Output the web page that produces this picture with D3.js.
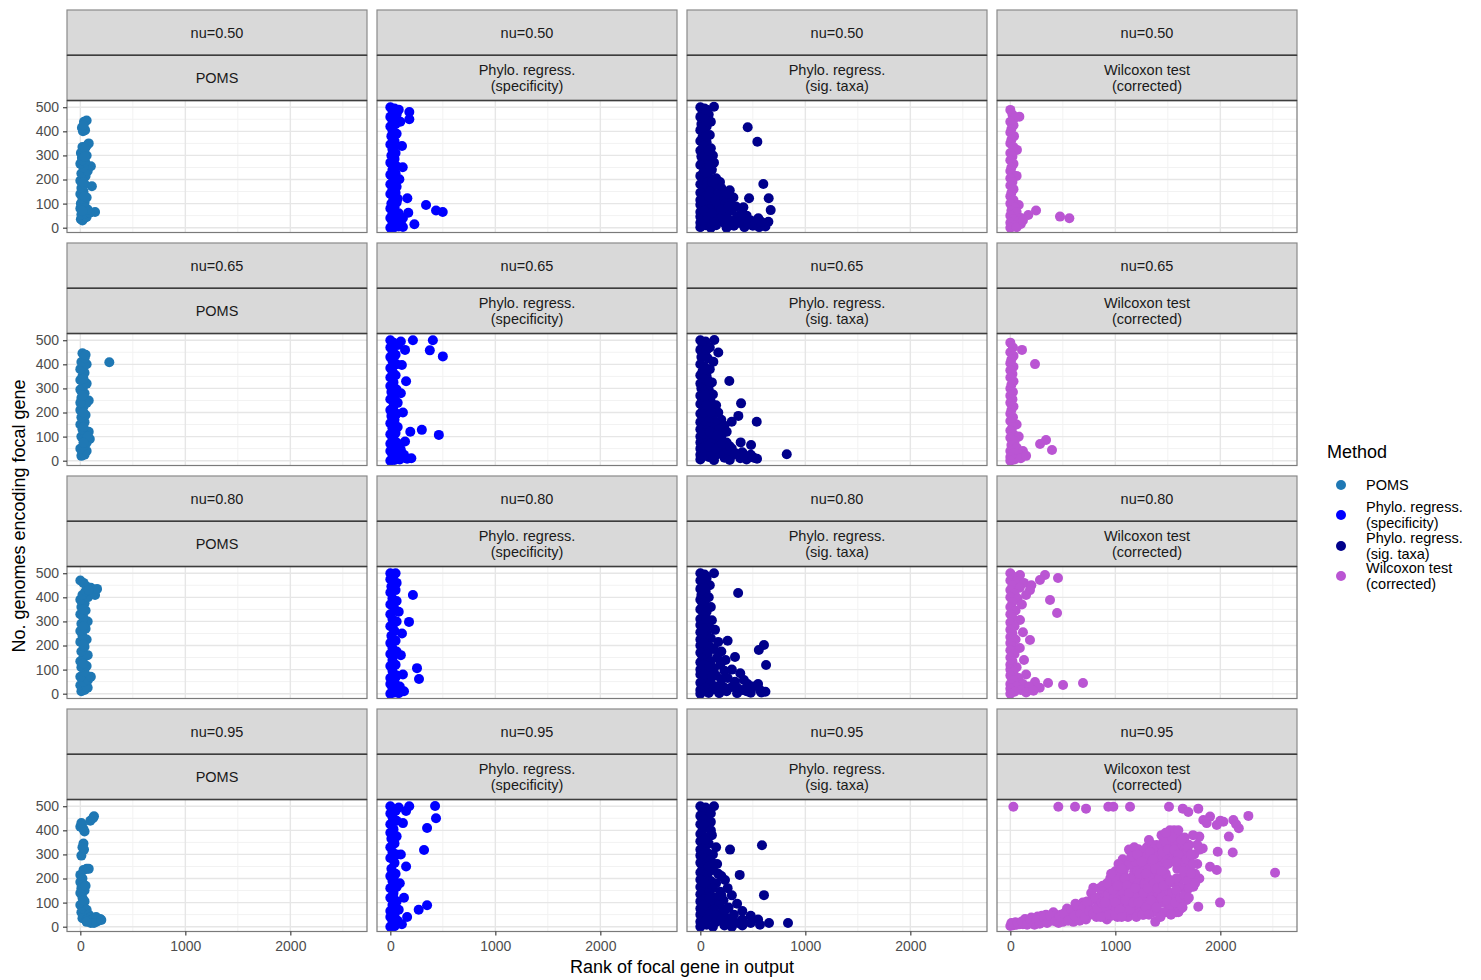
<!DOCTYPE html>
<html>
<head>
<meta charset="utf-8">
<script src="https://cdn.jsdelivr.net/npm/d3@7"></script>
<style>
  body { margin: 0; background: #ffffff; }
  text { font-family: "Liberation Sans", Arial, Helvetica, sans-serif; }
</style>
</head>
<body>
<svg id="chart" width="1481" height="980"></svg>
<script>
// Facet labels, legend entries and tick values
const nuLevels = ["nu=0.50", "nu=0.65", "nu=0.80", "nu=0.95"];
const methods = ["POMS", "Phylo. regress.\n(specificity)", "Phylo. regress.\n(sig. taxa)", "Wilcoxon test\n(corrected)"];
const methodColors = ["#1f78b4", "#0000ff", "#00008b", "#ba55d3"];
const xTicks = [0, 1000, 2000];
const xMinorTicks = [500, 1500, 2500];
const yTicks = [0, 100, 200, 300, 400, 500];
const yMinorTicks = [50, 150, 250, 350, 450];

// Each point: [rank of focal gene in output, no. genomes encoding focal gene]
const nu050_poms = [[5,35],[20,30],[40,40],[60,45],[10,55],[50,60],[140,65],[90,62],[0,80],[30,85],[70,75],[5,100],[40,105],[20,120],[60,125],[0,140],[30,150],[10,165],[110,172],[40,180],[0,195],[25,205],[50,215],[10,225],[70,235],[100,255],[30,250],[0,265],[45,275],[15,290],[60,300],[5,310],[35,320],[20,335],[60,340],[80,350],[45,330],[25,400],[45,405],[15,415],[35,440],[60,445],[30,425],[20,70],[40,130],[30,190],[20,280],[40,295]];
const nu050_spec = [[0,0],[40,2],[80,5],[120,3],[20,20],[60,25],[100,18],[0,40],[50,45],[20,60],[70,58],[0,80],[40,85],[10,100],[60,105],[30,120],[162,122],[0,140],[50,145],[20,160],[60,170],[0,180],[86,201],[30,200],[0,220],[50,225],[20,240],[118,251],[60,255],[0,270],[40,285],[10,300],[50,310],[20,325],[111,339],[0,345],[40,360],[10,380],[60,390],[20,405],[0,420],[50,430],[95,440],[20,445],[181,450],[0,460],[60,470],[181,480],[20,485],[0,500],[40,495],[340,94],[435,71],[499,65],[171,62],[229,14],[95,20],[80,60],[120,40],[30,30],[30,110],[30,180],[30,260],[30,335],[30,395],[30,470],[80,490],[70,120],[80,10]];
const nu050_sig = [[0,500],[40,495],[130,502],[20,480],[80,470],[0,460],[50,450],[100,440],[10,430],[60,420],[451,417],[0,405],[40,395],[90,385],[20,375],[0,360],[543,357],[60,355],[30,340],[100,330],[0,320],[50,310],[120,300],[10,295],[70,285],[20,275],[130,270],[0,260],[60,250],[110,240],[30,230],[0,215],[80,210],[150,205],[40,195],[187,190],[600,181],[0,180],[60,175],[120,170],[200,165],[30,160],[280,155],[90,150],[0,145],[160,140],[240,135],[50,130],[315,125],[464,122],[651,122],[110,120],[0,115],[200,110],[60,105],[280,100],[0,95],[140,95],[410,85],[340,88],[30,85],[220,82],[90,75],[670,73],[300,70],[0,65],[160,65],[400,62],[60,55],[250,55],[441,50],[120,45],[0,45],[350,45],[30,35],[190,35],[552,39],[480,30],[648,25],[300,28],[90,25],[0,20],[230,20],[400,18],[600,15],[50,10],[150,10],[320,8],[500,8],[620,5],[0,2],[100,0],[250,0],[420,2],[560,2],
  [20,30],[70,40],[130,30],[170,50],[210,45],[260,35],[330,25],[370,50],[430,35],[20,110],[80,130],[140,115],[180,95],[240,100],[300,85],[40,70],[110,60],[200,75],[270,90],[360,20],[460,15],[520,20],[580,25],[30,200],[70,190],[110,190],[50,230],[90,260],[40,300],[80,320],[60,380],[30,420],[70,440],[30,460],[60,490]];
const nu050_wil = [[0,489],[20,470],[86,461],[40,455],[0,440],[30,425],[10,410],[0,395],[35,380],[10,365],[0,350],[30,335],[63,323],[0,310],[20,295],[0,280],[30,265],[10,250],[0,235],[25,220],[60,215],[0,205],[20,190],[0,175],[30,160],[10,145],[0,130],[30,115],[80,94],[0,100],[40,85],[10,70],[60,65],[245,71],[171,53],[473,46],[562,39],[100,40],[0,50],[30,35],[70,25],[0,20],[40,10],[100,15],[0,0],[60,2],[120,30]];

const nu065_poms = [[10,20],[40,25],[60,40],[0,50],[30,60],[90,90],[60,75],[10,100],[50,110],[80,120],[20,130],[0,150],[40,160],[10,180],[50,190],[0,210],[30,225],[80,250],[60,240],[10,260],[40,280],[0,295],[30,310],[60,320],[0,335],[20,350],[40,365],[0,380],[30,395],[60,400],[10,410],[40,425],[20,446],[50,440],[276,409],[0,240],[70,100],[30,75],[30,140],[30,200],[20,270],[30,340]];
const nu065_spec = [[0,0],[40,3],[90,5],[20,20],[60,25],[0,40],[100,45],[40,55],[0,70],[60,75],[20,90],[0,110],[50,115],[20,135],[70,140],[0,155],[40,170],[10,185],[60,195],[0,210],[30,225],[70,240],[0,255],[40,270],[10,285],[60,295],[0,310],[30,325],[150,330],[0,345],[50,355],[20,370],[0,385],[110,397],[60,400],[20,415],[0,430],[50,440],[140,460],[20,455],[0,470],[70,480],[30,490],[0,500],[100,495],[215,500],[405,500],[376,458],[500,433],[100,280],[120,200],[300,128],[462,107],[190,120],[140,80],[130,25],[200,10],[90,50],[160,8],[30,100],[30,160],[30,245],[30,300],[30,360],[30,430]];
const nu065_sig = [[0,500],[50,495],[133,501],[20,480],[90,470],[0,460],[171,449],[40,445],[10,430],[70,425],[124,411],[0,400],[40,390],[90,380],[20,370],[0,355],[60,350],[30,340],[276,331],[110,325],[0,320],[50,310],[10,300],[80,295],[30,285],[120,275],[0,270],[60,260],[20,250],[100,245],[388,238],[0,235],[150,230],[50,225],[90,215],[20,205],[171,200],[0,195],[60,190],[362,186],[120,185],[30,175],[200,170],[299,162],[537,162],[80,165],[0,160],[150,155],[40,145],[230,145],[100,140],[0,130],[180,130],[60,125],[251,120],[20,115],[120,110],[0,100],[200,100],[80,95],[40,85],[150,85],[384,76],[0,75],[250,75],[100,70],[483,65],[40,60],[180,60],[0,50],[300,50],[120,45],[220,40],[60,35],[400,35],[0,25],[823,27],[150,25],[300,22],[480,25],[80,15],[230,12],[510,12],[380,10],[0,5],[130,2],[280,3],[440,5],[540,8],
  [30,20],[110,25],[190,30],[260,45],[340,30],[420,20],[30,55],[80,60],[150,50],[210,70],[280,60],[30,110],[90,120],[160,105],[40,200],[100,200],[60,230],[40,270],[80,330],[50,380],[60,460]];
const nu065_wil = [[0,490],[25,470],[111,460],[0,450],[30,435],[10,420],[235,401],[0,405],[30,390],[0,375],[20,360],[0,345],[30,330],[10,315],[0,300],[25,285],[0,270],[20,255],[0,240],[30,225],[10,210],[0,195],[25,180],[60,150],[0,165],[20,140],[0,125],[30,110],[80,100],[0,95],[40,80],[10,65],[60,55],[340,86],[283,69],[397,44],[120,40],[0,40],[30,30],[80,25],[0,15],[40,5],[100,10],[150,20],[0,0]];

const nu080_poms = [[10,10],[40,15],[70,25],[0,35],[60,30],[30,50],[73,57],[100,70],[0,70],[40,90],[10,110],[60,115],[0,135],[30,150],[70,160],[10,175],[40,195],[0,215],[60,225],[20,240],[0,260],[50,270],[10,290],[70,300],[30,315],[0,330],[50,345],[10,360],[40,375],[0,390],[73,401],[20,410],[100,440],[140,410],[120,420],[159,435],[60,445],[30,460],[0,470],[50,425],[80,430],[30,125],[30,205],[30,280],[30,350]];
const nu080_spec = [[0,0],[40,5],[80,2],[20,20],[60,25],[130,10],[0,40],[90,30],[40,50],[0,65],[120,80],[60,75],[20,95],[0,115],[50,120],[254,106],[273,61],[20,140],[100,160],[0,165],[60,175],[20,190],[0,210],[50,220],[111,250],[10,240],[40,260],[0,280],[178,298],[60,300],[20,310],[0,330],[80,340],[40,350],[0,370],[60,385],[20,395],[215,410],[0,420],[50,430],[10,445],[60,460],[0,475],[30,490],[0,500],[50,500],[30,80],[30,160],[30,225],[30,290],[30,365],[30,460]];
const nu080_sig = [[0,500],[40,495],[130,500],[60,480],[0,470],[20,455],[90,450],[0,435],[50,425],[360,418],[10,410],[80,400],[0,390],[40,380],[20,365],[100,360],[0,350],[60,340],[30,325],[0,310],[110,305],[50,295],[0,285],[80,280],[20,270],[140,265],[0,255],[60,250],[30,240],[260,220],[100,230],[0,225],[170,215],[50,210],[606,202],[0,200],[90,195],[557,181],[130,185],[30,180],[200,175],[0,170],[70,165],[330,152],[160,150],[20,145],[240,140],[100,135],[0,130],[626,119],[190,120],[50,115],[300,100],[130,105],[0,100],[230,95],[70,90],[380,85],[0,80],[150,75],[415,57],[260,65],[40,60],[330,50],[100,45],[0,45],[450,40],[200,35],[550,40],[50,25],[300,28],[500,30],[0,15],[130,18],[400,15],[568,15],[250,10],[620,8],[80,3],[180,2],[350,2],[480,4],[580,5],[0,0],
  [30,120],[90,115],[40,80],[110,75],[200,60],[160,30],[230,25],[350,25],[440,10],[30,210],[60,310],[40,440],[30,270]];
const nu080_wil = [[0,500],[92,493],[330,493],[30,485],[282,472],[454,480],[0,470],[60,465],[130,460],[200,450],[20,450],[90,440],[187,430],[0,430],[40,415],[150,410],[0,400],[378,389],[70,395],[20,380],[110,370],[0,360],[50,345],[445,335],[0,330],[92,306],[20,315],[0,295],[40,280],[0,265],[120,255],[20,250],[0,235],[187,223],[50,225],[0,210],[20,195],[90,190],[0,180],[40,165],[0,150],[130,140],[20,135],[0,120],[60,110],[0,100],[30,90],[150,80],[0,75],[80,65],[30,55],[235,48],[359,44],[502,36],[692,44],[120,40],[0,40],[180,30],[60,30],[280,25],[0,20],[100,15],[40,8],[0,0],[150,5],[220,12]];

const nu095_poms = [[0,415],[15,425],[30,405],[40,395],[10,430],[95,440],[130,458],[120,450],[30,345],[35,320],[10,295],[20,330],[60,240],[30,235],[80,240],[0,215],[20,200],[0,185],[30,175],[10,160],[40,150],[0,140],[20,120],[40,105],[0,90],[30,80],[60,70],[10,60],[40,50],[80,50],[100,40],[20,35],[60,30],[120,30],[160,22],[190,32],[150,40],[100,15],[130,15],[200,28],[60,20],[30,110],[50,170]];
const nu095_spec = [[0,0],[40,2],[110,10],[20,20],[70,25],[0,40],[160,40],[40,50],[270,70],[350,89],[0,65],[80,70],[20,90],[60,105],[0,120],[130,120],[30,140],[0,160],[60,165],[90,180],[20,190],[0,210],[50,220],[150,250],[10,240],[40,265],[0,285],[100,300],[60,300],[20,310],[321,318],[0,330],[40,345],[10,365],[60,375],[0,390],[350,410],[30,405],[120,430],[0,425],[60,440],[435,450],[20,455],[0,470],[150,480],[50,480],[0,500],[180,500],[426,501],[80,495],[30,70],[30,120],[30,200],[30,290],[30,375],[30,440]];
const nu095_sig = [[0,500],[50,495],[130,500],[20,480],[80,470],[0,460],[40,445],[100,435],[0,425],[60,415],[20,400],[0,385],[110,380],[50,370],[0,355],[80,345],[587,338],[30,335],[0,320],[283,320],[60,310],[120,300],[0,295],[40,285],[90,275],[0,265],[160,260],[50,255],[20,240],[120,235],[0,225],[70,220],[375,215],[200,210],[30,205],[235,194],[0,195],[100,190],[150,180],[50,175],[0,165],[260,160],[120,160],[30,150],[190,145],[80,140],[606,131],[0,135],[300,130],[140,120],[40,115],[220,110],[0,105],[100,100],[350,95],[180,90],[50,85],[0,75],[270,80],[130,70],[400,65],[60,60],[200,55],[0,50],[320,50],[480,45],[100,40],[250,35],[30,30],[400,30],[550,30],[0,20],[150,20],[320,18],[480,15],[654,15],[835,15],[60,8],[230,5],[400,5],[568,8],[0,0],[120,0],[300,0],
  [30,60],[80,50],[150,45],[200,30],[280,20],[360,15],[30,90],[90,120],[40,180],[80,250],[40,360],[40,420],[100,470],[100,400],[150,330],[130,260],[170,220],[200,130],[240,70],[60,30]];
const nu095_wil = [
  [29,498],[457,498],[616,498],[721,490],[933,498],[981,498],[1140,498],[1511,498],[1642,490],[1695,476],[1790,490],[1838,443],[1902,457],[1966,422],[2029,436],[2124,443],[2267,460],[2176,409],[2081,374],[2150,425],[2000,440],[1870,430],
  [1800,374],[1832,325],[1975,311],[2118,308],[1902,249],[1966,235],[2521,224],[1743,215],[1800,200],[1743,166],[1680,111],[1790,83],[1997,100],[1627,76],
  [1219,321],[1394,339],[1600,374],[1054,256],[952,201],[790,162],
  [0,3],[30,6],[60,8],[90,10],[10,15],[50,18],
  [120,10],[150,20],[180,15],[210,25],[240,18],[270,30],[300,22],[140,32],[200,38],[260,42],[300,45],[230,8],
  [330,20],[360,35],[390,25],[420,40],[450,30],[480,50],[500,38],[340,50],[410,60],[460,15],[500,20],
  [530,30],[560,55],[590,40],[620,70],[650,45],[680,90],[700,60],[540,75],[600,20],[660,25],[690,100],[620,95],
  [720,30],[740,80],[760,50],[780,110],[800,70],[820,40],[840,95],[860,130],[880,60],[900,150],[770,140],[850,160],
  [920,30],[940,90],[960,120],[980,60],[1000,170],[1020,40],[1040,140],[1060,200],[1080,100],[1100,250],[1000,230],[1080,180],[1030,100],[1100,60],[960,45],[1070,280],[1100,150],[1040,220],
  [1120,40],[1140,110],[1160,180],[1180,230],[1200,290],[1220,60],[1240,140],[1260,200],[1280,260],[1300,330],[1130,320],[1150,260],[1190,80],[1250,90],[1270,50],[1210,170],[1280,120],[1300,190],[1170,130],[1230,250],[1300,60],[1250,300],
  [1320,80],[1340,150],[1360,210],[1380,270],[1400,330],[1420,100],[1440,180],[1460,240],[1480,300],[1500,370],[1320,280],[1360,60],[1400,120],[1440,60],[1470,140],[1500,200],[1350,340],[1430,290],[1380,20],[1500,90],[1460,360],[1340,240],[1410,220],
  [1520,130],[1540,300],[1560,180],[1580,350],[1600,110],[1620,250],[1640,310],[1660,200],[1680,150],[1700,280],[1540,80],[1580,60],[1620,330],[1660,370],[1700,340],[1680,240],[1560,400],[1640,160],[1600,200],[1700,200],[1520,330],
  [1720,180],[1750,300],[1780,260],[1740,380],[1800,320],[1760,220],
  [20,12],[70,15],[110,22],[160,8],[190,30],[250,28],[280,12],[320,38],[350,15],[380,45],[430,22],[470,42],[510,55],[550,25],[580,70],[610,45],[640,85],[670,55],[700,85],[710,40],[730,105],[750,65],[790,55],[810,120],[830,75],[870,100],[890,40],[910,80],[930,135],[950,160],[970,95],[990,120],[1010,75],[1050,110],[1090,130],[1010,195],[1030,260],[1060,170],[1080,230],[1110,200],[1130,260],[1150,150],[1170,210],[1190,270],[1210,230],[1230,190],[1250,160],[1270,230],[1290,290],[1310,240],[1330,200],[1350,170],[1370,140],[1390,180],[1410,260],[1430,330],[1450,210],[1470,280],[1490,150],[1510,180],[1530,270],[1550,350],[1570,310],[1590,240],[1610,170],[1630,200],[1650,270],[1670,330],[1690,190],[1710,240],[1160,60],[1200,120],[1240,60],[1280,170],[1320,130],[1360,100],[1400,60],[1420,150],[1460,100],[1480,60],[1520,90],[1560,120],[1600,60],[1640,120],[1260,110],[1120,90],[1100,110],[1080,60],[1180,330],[1320,360],[1360,320],[1440,380],[1480,350],[1520,400],[1600,400],[1620,290],[1660,300],[1580,200],[1540,140],[1200,200],[1140,200],[1050,150],[960,170],
  [860,40],[880,170],[900,100],[920,180],[940,50],[960,220],[980,150],[1000,100],[1000,50],[1020,170],[1040,70],[1060,40],[1060,240],[1090,200],[1110,170],[1130,140],[1140,70],[1150,290],[1170,100],[1190,160],[1200,40],[1210,300],[1220,100],[1230,220],[1250,270],[1260,50],[1270,140],[1290,220],[1290,80],[1310,160],[1320,50],[1330,310],[1340,110],[1350,270],[1370,180],[1380,240],[1390,80],[1400,160],[1400,290],[1420,200],[1430,40],[1440,120],[1450,310],[1460,170],[1480,220],[1490,110],[1500,260],[1500,320],[1520,190],[1530,50],[1560,320],[1570,100],[1580,150],[1600,300],[1620,120],[1630,360],[1650,230],[1660,130],[1680,280],[1690,330],[1700,160],[1720,300],[1720,220],[1740,260],[1760,180],[1780,340],[1640,80],[1700,120],[1540,370],[1480,390],[1580,270],[1440,230],[1360,280]
];

const panelData = [
  [nu050_poms, nu050_spec, nu050_sig, nu050_wil],
  [nu065_poms, nu065_spec, nu065_sig, nu065_wil],
  [nu080_poms, nu080_spec, nu080_sig, nu080_wil],
  [nu095_poms, nu095_spec, nu095_sig, nu095_wil]
];

// Layout of the facet grid
const gridLeft = 67, colStep = 310, panelW = 300;
const gridTop = 10, rowStep = 233;
const stripH = 45.25;
const plotTopOff = 2 * stripH, plotBotOff = 222.5;
const xDomain = [-127, 2730], yDomain = [-20, 528];
const pointR = 5;

const svg = d3.select("#chart");
const defs = svg.append("defs");

nuLevels.forEach((nu, r) => {
  methods.forEach((method, c) => {
    const left = gridLeft + c * colStep;
    const top = gridTop + r * rowStep;
    const pTop = top + plotTopOff, pBot = top + plotBotOff;
    const x = d3.scaleLinear().domain(xDomain).range([left, left + panelW]);
    const y = d3.scaleLinear().domain(yDomain).range([pBot, pTop]);
    const g = svg.append("g").attr("class", "panel");

    g.append("rect").attr("x", left).attr("y", pTop).attr("width", panelW).attr("height", pBot - pTop).attr("fill", "#ffffff");

    // grid lines
    g.selectAll(".xminor").data(xMinorTicks).join("line")
      .attr("x1", d => x(d)).attr("x2", d => x(d)).attr("y1", pTop).attr("y2", pBot)
      .attr("stroke", "#f2f2f2").attr("stroke-width", 1);
    g.selectAll(".yminor").data(yMinorTicks).join("line")
      .attr("y1", d => y(d)).attr("y2", d => y(d)).attr("x1", left).attr("x2", left + panelW)
      .attr("stroke", "#f2f2f2").attr("stroke-width", 1);
    g.selectAll(".xmajor").data(xTicks).join("line")
      .attr("x1", d => x(d)).attr("x2", d => x(d)).attr("y1", pTop).attr("y2", pBot)
      .attr("stroke", "#e6e6e6").attr("stroke-width", 1.4);
    g.selectAll(".ymajor").data(yTicks).join("line")
      .attr("y1", d => y(d)).attr("y2", d => y(d)).attr("x1", left).attr("x2", left + panelW)
      .attr("stroke", "#e6e6e6").attr("stroke-width", 1.4);

    // points
    const clipId = `clip-${r}-${c}`;
    defs.append("clipPath").attr("id", clipId).append("rect")
      .attr("x", left).attr("y", pTop).attr("width", panelW).attr("height", pBot - pTop);
    g.append("g").attr("clip-path", `url(#${clipId})`)
      .selectAll("circle").data(panelData[r][c]).join("circle")
      .attr("cx", d => x(d[0])).attr("cy", d => y(d[1])).attr("r", pointR)
      .attr("fill", methodColors[c]);

    // panel border
    g.append("rect").attr("x", left).attr("y", pTop).attr("width", panelW).attr("height", pBot - pTop)
      .attr("fill", "none").attr("stroke", "#7a7a7a").attr("stroke-width", 1.2);

    // strips
    [0, 1].forEach(k => {
      g.append("rect").attr("x", left).attr("y", top + k * stripH).attr("width", panelW).attr("height", stripH)
        .attr("fill", "#d9d9d9").attr("stroke", "#8a8a8a").attr("stroke-width", 1.2);
    });
    [top + stripH, top + 2 * stripH].forEach(yy => {
      g.append("line").attr("x1", left).attr("x2", left + panelW).attr("y1", yy).attr("y2", yy)
        .attr("stroke", "#3d3d3d").attr("stroke-width", 1.6);
    });
    g.append("text").attr("x", left + panelW / 2).attr("y", top + stripH / 2 + 5)
      .attr("text-anchor", "middle").attr("font-size", 14.5).attr("fill", "#1a1a1a").text(nu);
    const lines = method.split("\n");
    const mid = top + stripH * 1.5;
    lines.forEach((ln, i) => {
      const yy = lines.length === 1 ? mid + 5 : mid - 3 + i * 16;
      g.append("text").attr("x", left + panelW / 2).attr("y", yy)
        .attr("text-anchor", "middle").attr("font-size", 14.5).attr("fill", "#1a1a1a").text(ln);
    });

    // axes on the outer panels
    if (c === 0) {
      const ax = g.append("g").attr("transform", `translate(${left},0)`)
        .call(d3.axisLeft(y).tickValues(yTicks).tickFormat(d3.format("d")).tickSize(4).tickPadding(4));
      ax.select(".domain").remove();
      ax.selectAll(".tick line").attr("stroke", "#333333").attr("stroke-width", 1.1);
      ax.selectAll(".tick text").attr("fill", "#4d4d4d").attr("font-size", 14)
        .attr("font-family", '"Liberation Sans", Arial, sans-serif');
    }
    if (r === nuLevels.length - 1) {
      const ax = g.append("g").attr("transform", `translate(0,${pBot})`)
        .call(d3.axisBottom(x).tickValues(xTicks).tickFormat(d3.format("d")).tickSize(4).tickPadding(6));
      ax.select(".domain").remove();
      ax.selectAll(".tick line").attr("stroke", "#333333").attr("stroke-width", 1.1);
      ax.selectAll(".tick text").attr("fill", "#4d4d4d").attr("font-size", 14)
        .attr("font-family", '"Liberation Sans", Arial, sans-serif');
    }
  });
});

// axis titles
const gridRight = gridLeft + 3 * colStep + panelW;
svg.append("text").attr("x", (gridLeft + gridRight) / 2).attr("y", 973)
  .attr("text-anchor", "middle").attr("font-size", 18).attr("fill", "#000").text("Rank of focal gene in output");
const firstPlotTop = gridTop + plotTopOff;
const lastPlotBot = gridTop + 3 * rowStep + plotBotOff;
svg.append("text")
  .attr("transform", `translate(25,${(firstPlotTop + lastPlotBot) / 2}) rotate(-90)`)
  .attr("text-anchor", "middle").attr("font-size", 18).attr("fill", "#000").text("No. genomes encoding focal gene");

// legend
const legend = svg.append("g");
legend.append("text").attr("x", 1327).attr("y", 458).attr("font-size", 18).attr("fill", "#000").text("Method");
const legendY = [485, 515, 546, 576];
methods.forEach((m, i) => {
  legend.append("circle").attr("cx", 1341).attr("cy", legendY[i]).attr("r", pointR).attr("fill", methodColors[i]);
  const lines = m.split("\n");
  lines.forEach((ln, j) => {
    const yy = lines.length === 1 ? legendY[i] + 5 : legendY[i] - 3 + j * 16;
    legend.append("text").attr("x", 1366).attr("y", yy).attr("font-size", 14.5).attr("fill", "#000").text(ln);
  });
});
</script>
</body>
</html>
